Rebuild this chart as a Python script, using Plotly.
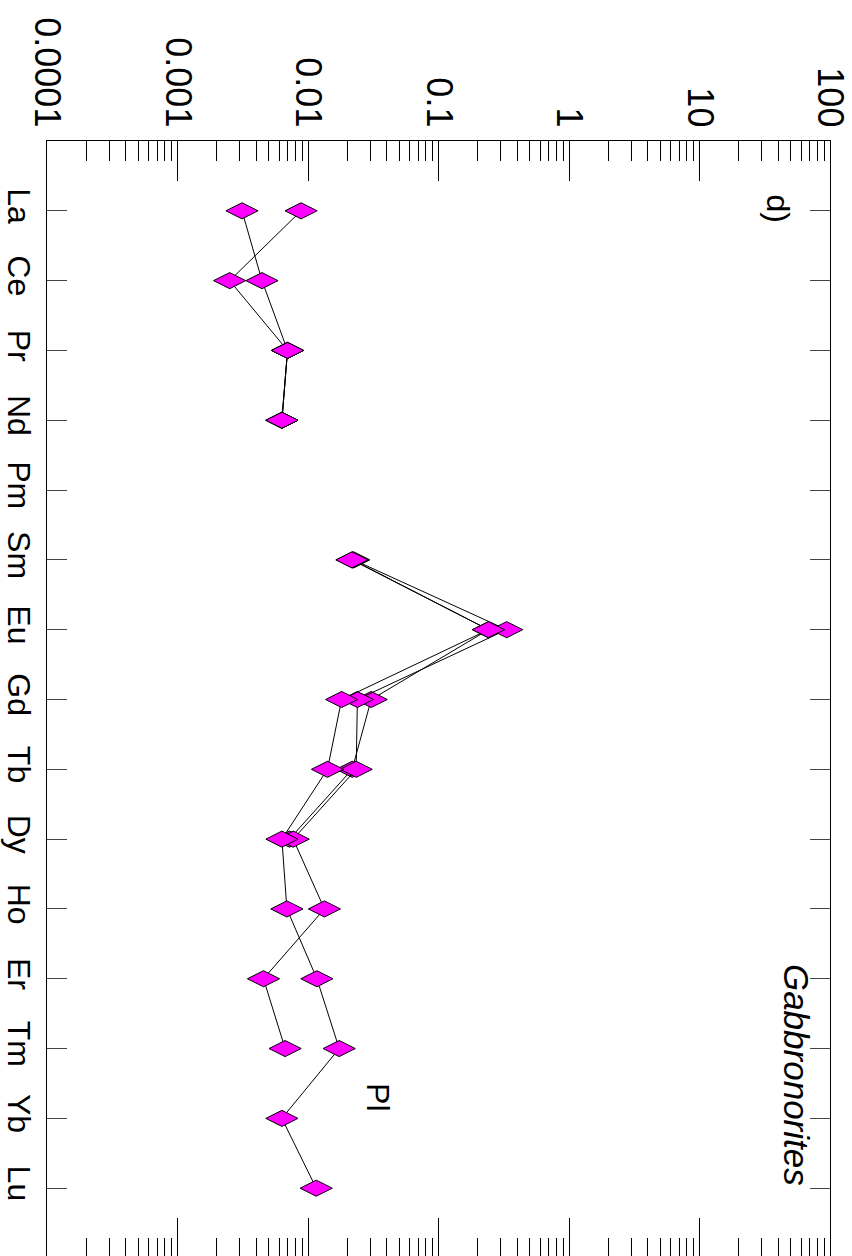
import plotly.graph_objects as go

elements = ["La", "Ce", "Pr", "Nd", "Pm", "Sm", "Eu", "Gd", "Tb", "Dy", "Ho", "Er", "Tm", "Yb", "Lu"]

# Plagioclase REE (chondrite-normalised), gabbronorites
pl_1 = [0.00885, 0.00251, 0.00697, 0.00631, None, 0.0217, 0.2415, 0.0181, 0.0141, 0.00631, 0.00689, 0.0117, 0.01734, 0.00631, 0.01156]
pl_2 = [0.00312, 0.00444, 0.00697, 0.00631, None, 0.0224, 0.333, 0.0239, 0.0234, 0.0077, 0.01336, 0.00456, 0.00668, None, None]
pl_3 = [None, None, 0.00697, 0.00631, None, 0.0220, 0.2415, 0.0305, 0.0218, 0.0072, None, None, None, None, None]

tick_vals = [0.0001, 0.001, 0.01, 0.1, 1, 10, 100]
tick_text = ["0.0001", "0.001", "0.01", "0.1", "1", "10", "100"]

FONT = "Liberation Sans, Arial, sans-serif"

fig = go.Figure()
for s in [pl_3, pl_2, pl_1]:
    fig.add_trace(go.Scatter(
        x=s, y=elements, mode="lines+markers", connectgaps=False,
        line=dict(color="black", width=1),
        marker=dict(symbol="diamond-wide", size=23, color="#FF00FF",
                    line=dict(color="black", width=1)),
        showlegend=False, cliponaxis=False,
    ))

minor_vals = [k * 10 ** e for e in range(-4, 2) for k in range(2, 10)]

fig.update_layout(
    width=852, height=1258,
    margin=dict(l=47, r=22, t=141, b=0),
    paper_bgcolor="white", plot_bgcolor="white",
    font=dict(family=FONT, size=34, color="black"),
    xaxis=dict(
        type="log", side="top", range=[-4, 2], automargin=False,
        tickmode="array", tickvals=tick_vals, ticktext=tick_text,
        tickangle=90, ticks="inside", ticklen=40, tickwidth=1, tickcolor="black",
        showline=True, linecolor="black", linewidth=1, mirror="allticks",
        showgrid=False, zeroline=False,
        tickfont=dict(family=FONT, size=36),
        minor=dict(tickmode="array", tickvals=minor_vals, ticks="inside",
                   ticklen=20, tickwidth=1, tickcolor="black", showgrid=False),
    ),
    yaxis=dict(
        type="category", categoryorder="array", categoryarray=elements,
        range=[15, -1], automargin=False,
        tickangle=90, ticks="inside", ticklen=20, tickwidth=1.2, tickcolor="#444",
        showline=True, linecolor="black", linewidth=1, mirror="ticks",
        showgrid=False, zeroline=False,
        tickfont=dict(family=FONT, size=32),
        ticklabelstandoff=0,
    ),
)

fig.add_annotation(text="d)", xref="paper", yref="paper", x=0.933, y=0.940,
                   xanchor="center", yanchor="middle",
                   showarrow=False, textangle=90, font=dict(family=FONT, size=32))
fig.add_annotation(text="<i>Gabbronorites</i>", xref="paper", yref="paper", x=0.958, y=0.1638,
                   xanchor="center", yanchor="middle",
                   showarrow=False, textangle=90, font=dict(family=FONT, size=35))
fig.add_annotation(text="Pl", xref="paper", yref="paper", x=0.4227, y=0.1441,
                   xanchor="center", yanchor="middle",
                   showarrow=False, textangle=90, font=dict(family=FONT, size=32))

fig.write_html("out.html", config={"displayModeBar": False},
               post_script="document.body.style.margin='0px';")
